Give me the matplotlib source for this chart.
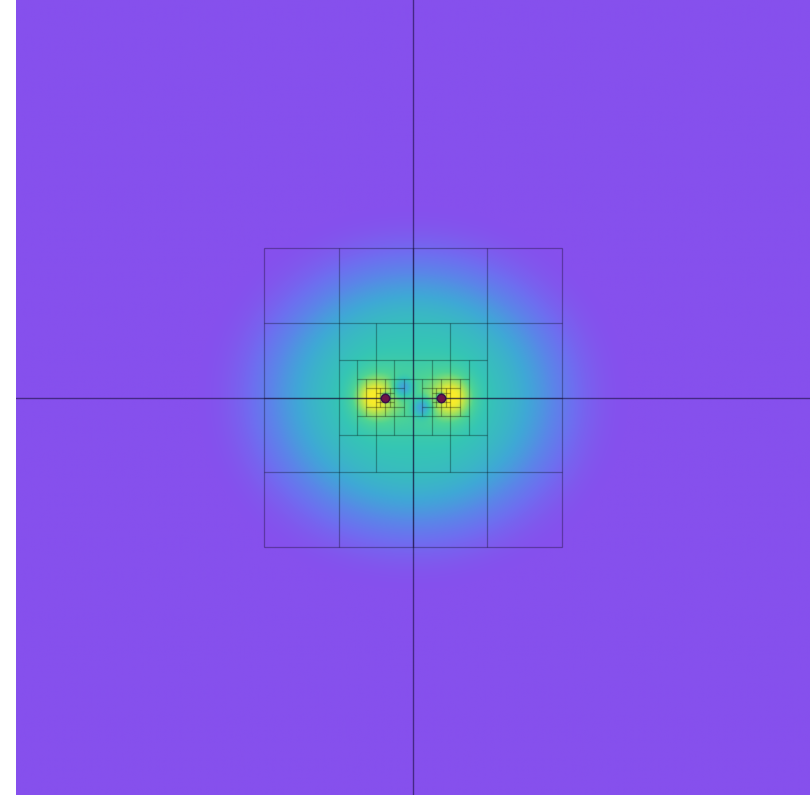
import numpy as np
import matplotlib
matplotlib.use("Agg")
import matplotlib.pyplot as plt
from matplotlib.colors import LinearSegmentedColormap
from matplotlib.collections import LineCollection

# ---------------- data ----------------
point_x = [-0.375, 0.375]          # source points
point_y = [0.0, 0.0]
dip_x = [-0.13, 0.12]              # local minima of the field
dip_y = [0.13, -0.13]
view_half = 5.33                   # visible half-width of the domain
root_half = 2.0                    # half-size of the root cell of the tree
max_depth = 12
split_ratio = 0.6

cmap_colors = ['#8650ED', '#7D5CEE', '#6E6EF0', '#5A86E8', '#3FA8D6', '#35C6B4',
               '#4ED494', '#98DF62', '#E0E938', '#F8EC2A']
cmap_stops = [0.0, 0.05, 0.14, 0.27, 0.42, 0.57, 0.69, 0.81, 0.93, 1.0]

# field shape parameters
base_amp, base_ax, base_ay, base_pow = 0.56, 2.02, 1.8, 4.5
halo_amp, halo_w = 0.16, 0.45
lobe_amp, lobe_off, lobe_wx, lobe_wy = 0.33, 0.15, 0.24, 0.25
hole_amp, hole_w = 0.45, 0.06
dip_amp, dip_w = 0.32, 0.13

# ---------------- field ----------------
n = 801
g = np.linspace(-view_half, view_half, n)
X, Y = np.meshgrid(g, g)
rho = np.sqrt((X / base_ax) ** 2 + (Y / base_ay) ** 2)
F = base_amp * np.exp(-rho ** base_pow)
for px, py in zip(point_x, point_y):
    d2 = (X - px) ** 2 + (Y - py) ** 2
    F += halo_amp * np.exp(-d2 / halo_w ** 2)
    cx = px + np.sign(px) * lobe_off
    F += lobe_amp * np.exp(-((X - cx) / lobe_wx) ** 2 - ((Y - py) / lobe_wy) ** 2)
    F -= hole_amp * np.exp(-d2 / hole_w ** 2)
for mx, my in zip(dip_x, dip_y):
    F -= dip_amp * np.exp(-((X - mx) ** 2 + (Y - my) ** 2) / dip_w ** 2)

cmap = LinearSegmentedColormap.from_list("fld", list(zip(cmap_stops, cmap_colors)))

# ---------------- adaptive tree ----------------
segs = []


def rect_dist(x0, x1, y0, y1):
    best = 1e9
    for px, py in zip(point_x, point_y):
        dx = max(x0 - px, 0, px - x1)
        dy = max(y0 - py, 0, py - y1)
        best = min(best, np.hypot(dx, dy))
    return best


def build(x0, x1, y0, y1, depth):
    w, h = x1 - x0, y1 - y0
    if depth >= max_depth or rect_dist(x0, x1, y0, y1) >= split_ratio * max(w, h):
        return
    if depth % 2 == 0:
        xm = 0.5 * (x0 + x1)
        segs.append([(xm, y0), (xm, y1)])
        build(x0, xm, y0, y1, depth + 1)
        build(xm, x1, y0, y1, depth + 1)
    else:
        ym = 0.5 * (y0 + y1)
        segs.append([(x0, ym), (x1, ym)])
        build(x0, x1, y0, ym, depth + 1)
        build(x0, x1, ym, y1, depth + 1)


r = root_half
segs += [[(-r, -r), (r, -r)], [(r, -r), (r, r)], [(r, r), (-r, r)], [(-r, r), (-r, -r)]]
build(-r, r, -r, r, 0)

# ---------------- plot ----------------
fig = plt.figure(figsize=(8.1, 7.95), dpi=100)
ax = fig.add_axes([16 / 810, 0, 794 / 810, 1])
ax.imshow(F, extent=[-view_half, view_half, -view_half, view_half], origin='lower',
          cmap=cmap, vmin=0, vmax=1, interpolation='bilinear', aspect='auto')
ax.add_collection(LineCollection(segs, colors='black', linewidths=0.9, alpha=0.3))
ax.axhline(0, color='#1a1040', lw=1.0, alpha=0.6)
ax.axvline(0, color='#1a1040', lw=1.0, alpha=0.6)
ax.plot(point_x, point_y, 'o', ms=6, mfc='#6e1448', mec='#3a0d48', mew=1.0, zorder=5)
ax.set_xlim(-view_half, view_half)
ax.set_ylim(-view_half, view_half)
ax.axis('off')
fig.savefig("out.png", dpi=100)
